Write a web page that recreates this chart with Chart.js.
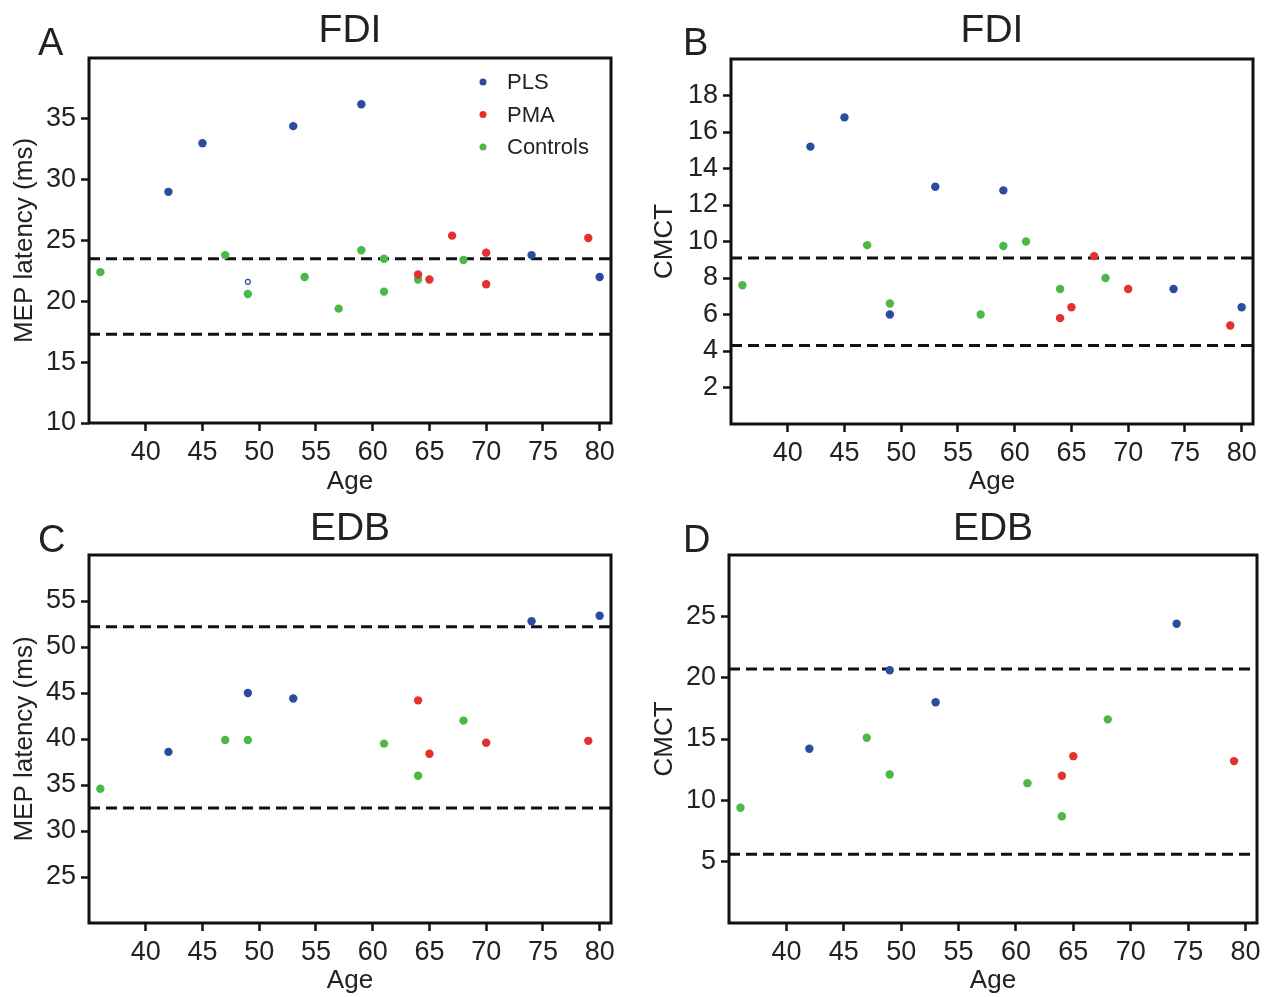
<!DOCTYPE html>
<html>
<head>
<meta charset="utf-8">
<script src="https://cdn.jsdelivr.net/npm/chart.js@4.4.1/dist/chart.umd.min.js"></script>
<style>
  body { margin: 0; background: #fff; }
  #wrap { position: relative; width: 1280px; height: 997px; }
  canvas { position: absolute; }
</style>
</head>
<body>
<div id="wrap">
  <canvas id="panelA" width="640" height="498" style="left:0;top:0"></canvas>
  <canvas id="panelB" width="640" height="498" style="left:640px;top:0"></canvas>
  <canvas id="panelC" width="640" height="499" style="left:0;top:498px"></canvas>
  <canvas id="panelD" width="640" height="499" style="left:640px;top:498px"></canvas>
</div>
<script>
// ---- data ----
const groupNames = ['PLS', 'PMA', 'Controls'];
const ageTicks = [40, 45, 50, 55, 60, 65, 70, 75, 80];

// A: FDI MEP latency
const aPlsAge = [42, 45, 49, 53, 59, 74, 80];
const aPlsVal = [29.0, 33.0, 21.6, 34.4, 36.2, 23.8, 22.0];
const aPmaAge = [64, 65, 67, 70, 70, 79];
const aPmaVal = [22.2, 21.8, 25.4, 24.0, 21.4, 25.2];
const aCtlAge = [36, 47, 49, 54, 57, 59, 61, 61, 64, 68];
const aCtlVal = [22.4, 23.8, 20.6, 22.0, 19.4, 24.2, 23.5, 20.8, 21.8, 23.4];
const aLimits = [23.5, 17.3];
const aYTicks = [10, 15, 20, 25, 30, 35];

// B: FDI CMCT
const bPlsAge = [42, 45, 49, 53, 59, 74, 80];
const bPlsVal = [15.2, 16.8, 6.0, 13.0, 12.8, 7.4, 6.4];
const bPmaAge = [64, 65, 67, 70, 79];
const bPmaVal = [5.8, 6.4, 9.2, 7.4, 5.4];
const bCtlAge = [36, 47, 49, 57, 59, 61, 64, 68];
const bCtlVal = [7.6, 9.8, 6.6, 6.0, 9.75, 10.0, 7.4, 8.0];
const bLimits = [9.1, 4.3];
const bYTicks = [2, 4, 6, 8, 10, 12, 14, 16, 18];

// C: EDB MEP latency
const cPlsAge = [42, 49, 53, 74, 80];
const cPlsVal = [38.6, 45.0, 44.4, 52.8, 53.4];
const cPmaAge = [64, 65, 70, 79];
const cPmaVal = [44.2, 38.4, 39.6, 39.8];
const cCtlAge = [36, 47, 49, 61, 64, 68];
const cCtlVal = [34.6, 39.9, 39.9, 39.5, 36.0, 42.0];
const cLimits = [52.2, 32.5];
const cYTicks = [25, 30, 35, 40, 45, 50, 55];

// D: EDB CMCT
const dPlsAge = [42, 49, 53, 74];
const dPlsVal = [14.2, 20.6, 18.0, 24.4];
const dPmaAge = [64, 65, 79];
const dPmaVal = [12.0, 13.6, 13.2];
const dCtlAge = [36, 47, 49, 61, 64, 68];
const dCtlVal = [9.4, 15.1, 12.1, 11.4, 8.7, 16.6];
const dLimits = [20.7, 5.6];
const dYTicks = [5, 10, 15, 20, 25];

// ---- styling ----
const FONT = '"Liberation Sans", Arial, sans-serif';
const INK = '#222';
const groupColors = ['#2b4ba0', '#e53030', '#4cb848'];

function toPoints(ages, vals) {
    return ages.map((a, i) => ({ x: a, y: vals[i] }));
}

// draws the frame, the panel letter and (optionally) the legend
const panelExtras = {
    id: 'panelExtras',
    afterDraw(chart, args, opts) {
        const { ctx, chartArea: ca } = chart;
        ctx.save();
        ctx.strokeStyle = '#111';
        ctx.lineWidth = 3;
        ctx.strokeRect(ca.left, ca.top, ca.right - ca.left, ca.bottom - ca.top);

        ctx.fillStyle = INK;
        ctx.font = '38px ' + FONT;
        ctx.textBaseline = 'alphabetic';
        ctx.textAlign = 'left';
        ctx.fillText(opts.letter, opts.letterX, opts.letterY);

        if (opts.legend) {
            ctx.font = '22px ' + FONT;
            ctx.textBaseline = 'middle';
            groupNames.forEach((name, i) => {
                const y = ca.top + 24 + i * 32.5;
                ctx.fillStyle = groupColors[i];
                ctx.beginPath();
                ctx.arc(ca.right - 128, y, 3.5, 0, Math.PI * 2);
                ctx.fill();
                ctx.fillStyle = INK;
                ctx.fillText(name, ca.right - 104, y + 1);
            });
        }
        ctx.restore();
    }
};

function makePanel(id, cfg) {
    const canvas = document.getElementById(id);
    const W = canvas.width, H = canvas.height;
    const area = cfg.area;

    const groups = [
        toPoints(cfg.pls[0], cfg.pls[1]),
        toPoints(cfg.pma[0], cfg.pma[1]),
        toPoints(cfg.ctl[0], cfg.ctl[1])
    ];
    const isHollow = (g, ctx) => g === 0 && ctx.dataIndex === cfg.hollow;
    const datasets = groups.map((pts, g) => ({
        label: groupNames[g],
        data: pts,
        order: 0,
        pointRadius: ctx => isHollow(g, ctx) ? 2.5 : 4.2,
        pointBackgroundColor: ctx => isHollow(g, ctx) ? '#fff' : groupColors[g],
        pointBorderColor: groupColors[g],
        pointBorderWidth: ctx => isHollow(g, ctx) ? 1.2 : 0
    }));
    cfg.limits.forEach(v => {
        datasets.push({
            label: 'limit',
            data: [{ x: 35, y: v }, { x: 81, y: v }],
            showLine: true,
            pointRadius: 0,
            borderColor: '#111',
            borderWidth: 3,
            borderDash: [11, 6],
            order: 2
        });
    });

    const tickFont = { family: FONT, size: 27 };
    const titleFont = { family: FONT, size: 26, lineHeight: 1.2 };

    new Chart(canvas, {
        type: 'scatter',
        data: { datasets },
        options: {
            responsive: false,
            animation: false,
            layout: { padding: { left: 0, right: W - area.right, top: 0, bottom: 0 } },
            plugins: {
                legend: { display: false },
                tooltip: { enabled: false },
                title: {
                    display: true,
                    text: cfg.title,
                    fullSize: false,
                    color: INK,
                    font: { family: FONT, size: 39, weight: 'normal', lineHeight: 1.2 },
                    padding: { top: 7.6, bottom: area.top - 46.8 - 7.6 }
                },
                panelExtras: { letter: cfg.letter, letterX: cfg.letterX, letterY: cfg.letterY, legend: !!cfg.legend }
            },
            scales: {
                x: {
                    type: 'linear',
                    min: 35,
                    max: 81,
                    afterBuildTicks: s => { s.ticks = ageTicks.map(v => ({ value: v })); },
                    afterFit: s => { s.height = H - area.bottom; },
                    ticks: { color: INK, font: tickFont, padding: 5, maxRotation: 0 },
                    grid: { drawOnChartArea: false, drawTicks: true, tickLength: 8, tickWidth: 2.5, tickColor: '#111' },
                    border: { display: false },
                    title: { display: true, text: 'Age', color: INK, font: titleFont, padding: { top: 0, bottom: 1 } }
                },
                y: {
                    type: 'linear',
                    min: cfg.yMin,
                    max: cfg.yMax,
                    afterBuildTicks: s => { s.ticks = cfg.yTicks.map(v => ({ value: v })); },
                    afterFit: s => { s.width = area.left; },
                    ticks: { color: INK, font: tickFont, padding: 5 },
                    grid: { drawOnChartArea: false, drawTicks: true, tickLength: 8, tickWidth: 2.5, tickColor: '#111' },
                    border: { display: false },
                    title: { display: true, text: cfg.yTitle, color: INK, font: titleFont, padding: { top: 9, bottom: 0 } }
                }
            }
        },
        plugins: [panelExtras]
    });
}

makePanel('panelA', {
    title: 'FDI', letter: 'A', letterX: 38, letterY: 55, legend: true,
    yTitle: 'MEP latency (ms)', yMin: 10, yMax: 40, yTicks: aYTicks,
    pls: [aPlsAge, aPlsVal], pma: [aPmaAge, aPmaVal], ctl: [aCtlAge, aCtlVal],
    hollow: 2, limits: aLimits,
    area: { left: 89, top: 58, right: 611, bottom: 423 }
});
makePanel('panelB', {
    title: 'FDI', letter: 'B', letterX: 43, letterY: 55,
    yTitle: 'CMCT', yMin: 0, yMax: 20, yTicks: bYTicks,
    pls: [bPlsAge, bPlsVal], pma: [bPmaAge, bPmaVal], ctl: [bCtlAge, bCtlVal],
    hollow: -1, limits: bLimits,
    area: { left: 91, top: 59, right: 613, bottom: 424 }
});
makePanel('panelC', {
    title: 'EDB', letter: 'C', letterX: 38, letterY: 54,
    yTitle: 'MEP latency (ms)', yMin: 20, yMax: 60, yTicks: cYTicks,
    pls: [cPlsAge, cPlsVal], pma: [cPmaAge, cPmaVal], ctl: [cCtlAge, cCtlVal],
    hollow: -1, limits: cLimits,
    area: { left: 89, top: 57, right: 611, bottom: 425 }
});
makePanel('panelD', {
    title: 'EDB', letter: 'D', letterX: 43, letterY: 54,
    yTitle: 'CMCT', yMin: 0, yMax: 30, yTicks: dYTicks,
    pls: [dPlsAge, dPlsVal], pma: [dPmaAge, dPmaVal], ctl: [dCtlAge, dCtlVal],
    hollow: -1, limits: dLimits,
    area: { left: 89, top: 57, right: 617, bottom: 425 }
});
</script>
</body>
</html>
